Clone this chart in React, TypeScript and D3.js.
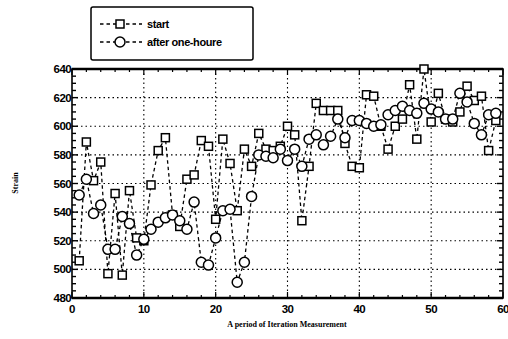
import React from "react";
import * as d3 from "d3";

// Iteration index for each measurement
const iterations = [
  1, 2, 3, 4, 5, 6, 7, 8, 9, 10, 11, 12, 13, 14, 15, 16, 17, 18, 19, 20,
  21, 22, 23, 24, 25, 26, 27, 28, 29, 30, 31, 32, 33, 34, 35, 36, 37, 38, 39, 40,
  41, 42, 43, 44, 45, 46, 47, 48, 49, 50, 51, 52, 53, 54, 55, 56, 57, 58, 59,
];

// Strain at start
const startValues = [
  506, 589, 562, 575, 497, 553, 496, 555, 522, 520, 559, 583, 592, 538, 530, 563, 566, 590, 586, 535,
  591, 574, 541, 584, 572, 595, 584, 583, 586, 600, 594, 534, 572, 616, 611, 611, 611, 588, 572, 571,
  622, 621, 600, 584, 600, 605, 629, 591, 640, 603, 623, 605, 603, 610, 628, 618, 621, 583, 604,
];

// Strain after one hour
const afterValues = [
  552, 563, 539, 545, 514, 514, 537, 532, 510, 521, 528, 533, 536, 538, 534, 528, 547, 505, 503, 522,
  541, 542, 491, 505, 551, 580, 579, 578, 584, 576, 584, 572, 591, 594, 587, 593, 605, 592, 604, 604,
  602, 600, 601, 608, 611, 614, 611, 609, 616, 612, 610, 605, 605, 623, 617, 602, 594, 608, 609,
];

const xTicks = [0, 10, 20, 30, 40, 50, 60];
const yTicks = [480, 500, 520, 540, 560, 580, 600, 620, 640];
const legendLabels = ["start", "after one-houre"];

const W = 508;
const H = 339;
const left = 72;
const right = 503;
const top = 69;
const bottom = 298;

export default function App() {
  const x = d3.scaleLinear().domain([0, 60]).range([left, right]);
  const y = d3.scaleLinear().domain([480, 640]).range([bottom, top]);

  const startPts: [number, number][] = iterations.map((d, i) => [d, startValues[i]]);
  const afterPts: [number, number][] = iterations.map((d, i) => [d, afterValues[i]]);

  const line = d3
    .line<[number, number]>()
    .x((d) => x(d[0]))
    .y((d) => y(d[1]));

  const xMinor = d3.range(0, 61, 2);
  const yMinor = d3.range(480, 641, 5);
  const tickFont = "Arial, 'Liberation Sans', sans-serif";
  const serif = "'Liberation Serif', 'DejaVu Serif', serif";

  const Square = ({ cx, cy }: { cx: number; cy: number }) => (
    <rect x={cx - 4} y={cy - 4} width={8} height={8} fill="white" stroke="black" strokeWidth={1.5} />
  );
  const Circle = ({ cx, cy }: { cx: number; cy: number }) => (
    <circle cx={cx} cy={cy} r={5} fill="white" stroke="black" strokeWidth={1.5} />
  );

  return (
    <svg width={W} height={H} style={{ position: "absolute", left: 0, top: 0, background: "white" }}>
      {/* grid */}
      {yTicks.slice(1, -1).map((t) => (
        <line key={"gy" + t} x1={left} x2={right} y1={y(t)} y2={y(t)} stroke="black" strokeWidth={1.1} strokeDasharray="1.5,3" />
      ))}
      {xTicks.slice(1, -1).map((t) => (
        <line key={"gx" + t} x1={x(t)} x2={x(t)} y1={top} y2={bottom} stroke="black" strokeWidth={1.1} strokeDasharray="1.5,3" />
      ))}

      {/* minor ticks */}
      {yMinor.map((t) => (
        <g key={"my" + t}>
          <line x1={left} x2={left + (t % 20 === 0 ? 6 : 4)} y1={y(t)} y2={y(t)} stroke="black" strokeWidth={1.4} />
          <line x1={right} x2={right - (t % 20 === 0 ? 6 : 4)} y1={y(t)} y2={y(t)} stroke="black" strokeWidth={1.4} />
        </g>
      ))}
      {xMinor.map((t) => (
        <g key={"mx" + t}>
          <line x1={x(t)} x2={x(t)} y1={bottom} y2={bottom - (t % 10 === 0 ? 6 : 3)} stroke="black" strokeWidth={1.2} />
          <line x1={x(t)} x2={x(t)} y1={top} y2={top + (t % 10 === 0 ? 6 : 3)} stroke="black" strokeWidth={1.2} />
        </g>
      ))}

      {/* frame */}
      <rect x={left} y={top} width={right - left} height={bottom - top} fill="none" stroke="black" strokeWidth={1.6} />
      <line x1={left} x2={right} y1={top} y2={top} stroke="black" strokeWidth={2.6} />
      <line x1={left} x2={right} y1={bottom} y2={bottom} stroke="black" strokeWidth={2.6} />

      {/* series */}
      <path d={line(startPts) || ""} fill="none" stroke="black" strokeWidth={1.3} strokeDasharray="3.5,3" />
      <path d={line(afterPts) || ""} fill="none" stroke="black" strokeWidth={1.3} strokeDasharray="3.5,3" />
      {startPts.map((p, i) => (
        <Square key={"s" + i} cx={x(p[0])} cy={y(p[1])} />
      ))}
      {afterPts.map((p, i) => (
        <Circle key={"a" + i} cx={x(p[0])} cy={y(p[1])} />
      ))}

      {/* tick labels */}
      {yTicks.map((t) => (
        <text key={"ly" + t} x={left - 1} y={y(t) + 4} textAnchor="end" fontFamily={tickFont} fontWeight="bold" fontSize={11.5} letterSpacing={-0.6}>
          {t}
        </text>
      ))}
      {xTicks.map((t) => (
        <text key={"lx" + t} x={x(t)} y={bottom + 15} textAnchor="middle" fontFamily={tickFont} fontWeight="bold" fontSize={11.5} letterSpacing={-0.6}>
          {t}
        </text>
      ))}

      {/* axis titles */}
      <text x={287} y={327} textAnchor="middle" fontFamily={serif} fontWeight="bold" fontSize={8}>
        A  period of Iteration Measurement
      </text>
      <text transform="translate(18,183) rotate(-90)" textAnchor="middle" fontFamily={serif} fontWeight="bold" fontSize={8}>
        Strain
      </text>

      {/* legend */}
      <rect x={91} y={7} width={162} height={53} rx={2} fill="white" stroke="black" strokeWidth={1.5} />
      {legendLabels.map((lab, i) => {
        const ly = 24 + i * 18;
        return (
          <g key={lab}>
            <line x1={100} x2={142} y1={ly} y2={ly} stroke="black" strokeWidth={1.3} strokeDasharray="3.5,3" />
            {i === 0 ? <Square cx={120} cy={ly} /> : <Circle cx={120} cy={ly} />}
            <text x={147} y={ly + 4} fontFamily={tickFont} fontWeight="bold" fontSize={11} letterSpacing={-0.4}>
              {lab}
            </text>
          </g>
        );
      })}
    </svg>
  );
}
